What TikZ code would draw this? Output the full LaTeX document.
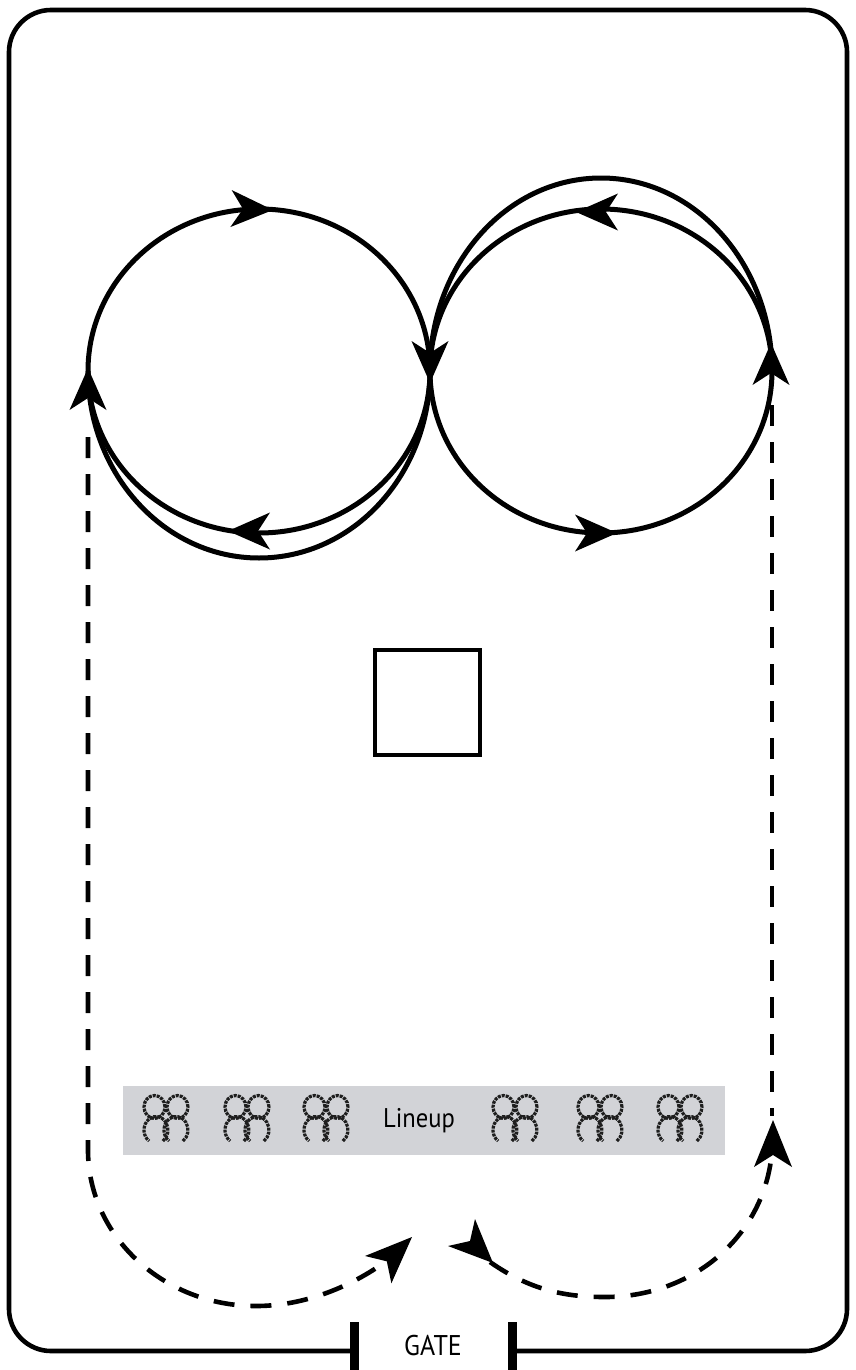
\documentclass[tikz,border=0pt]{standalone}
\usepackage{fontspec}
\newfontfamily\labfont{PT Sans}
\definecolor{lineupgray}{RGB}{210,211,215}
\definecolor{iconink}{RGB}{30,30,30}
\tikzset{
  track/.style={line width=5pt},
  dashtrack/.style={line width=4.6pt, dash pattern=on 21pt off 16pt},
  framestyle/.style={line width=4.6pt},
  gatebar/.style={line width=9pt},
  iconline/.style={draw=iconink, line width=3.2pt, dash pattern=on 3pt off 1pt},
  labeltext/.style={font=\labfont, inner sep=0pt},
  pics/ahead/.style={code={\fill (0,0) -- (-42,18.5) -- (-30,0) -- (-42,-18.5) -- cycle;}},
  pics/aheadb/.style={code={\fill (0,0) -- (-47,19) -- (-35,0) -- (-47,-19) -- cycle;}},
  pics/duo/.style={code={
    \draw[iconline] (-11.5,12) ellipse[x radius=10.5, y radius=11.5];
    \draw[iconline] (11.5,12) ellipse[x radius=10.5, y radius=11.5];
    \draw[iconline] ([shift={(-55:12 and 13.5)}]-10,-11) arc[start angle=-55, end angle=235, x radius=12, y radius=13.5];
    \draw[iconline] ([shift={(-55:12 and 13.5)}]10,-11) arc[start angle=-55, end angle=235, x radius=12, y radius=13.5];
  }},
}
\begin{document}
\begin{tikzpicture}[x=1pt, y=1pt, line join=miter]
\useasboundingbox (0,0) rectangle (856,-1370);

% outer frame with gate opening
\coordinate (gateL) at (354,-1351);
\coordinate (gateR) at (512,-1351);
\draw[framestyle, rounded corners=42pt] (gateL) -- (9,-1351) -- (9,-10) -- (847,-10) -- (847,-1351) -- (gateR);
\draw[gatebar] (354,-1322) -- (354,-1370);
\draw[gatebar] (512,-1322) -- (512,-1370);
\node[labeltext, anchor=base] (gate) at (433,-1355) {\scalebox{0.91}[1]{\fontsize{28.5}{30}\selectfont GATE}};

% loops
\coordinate (Lc) at (259,-371);
\coordinate (Rc) at (601,-371);
\draw[track] (Lc) ellipse[x radius=171, y radius=162];
\draw[track] (Rc) ellipse[x radius=171, y radius=162];
\draw[track] ([shift={(0:171 and 187)}]Lc) arc[start angle=0, end angle=-180, x radius=171, y radius=187];
\draw[track] ([shift={(0:171 and 193)}]Rc) arc[start angle=0, end angle=180, x radius=171, y radius=193];

% arrowheads on loops
\pic[rotate=-2] at (273,-210) {ahead};
\pic[rotate=-90] at (430,-383) {ahead};
\pic[rotate=180] at (228,-531) {ahead};
\pic[rotate=90] at (88,-368) {ahead};
\pic[rotate=0] at (617,-533) {ahead};
\pic[rotate=90] at (771,-343) {ahead};
\pic[rotate=180] at (576,-212) {ahead};

% centre square
\node[draw, line width=4.6pt, minimum width=105pt, minimum height=105pt, inner sep=0pt] (box) at (427.5,-702.5) {};

% lineup
\node[fill=lineupgray, minimum width=602pt, minimum height=69pt, inner sep=0pt] (lineup) at (424,-1120.5) {};
\node[labeltext, anchor=base] (lineuptext) at (419,-1127) {\scalebox{0.91}[1]{\fontsize{27}{29}\selectfont Lineup}};
\foreach \fx in {166,247,326,515,600,680} {
  \pic at (\fx,-1119) {duo};
}

% dashed paths
\coordinate (ldTop) at (88,-437);
\coordinate (ldTurn) at (88,-1150);
\coordinate (ldEnd) at (393,-1256);
\draw[dashtrack] (ldTop) -- (ldTurn) arc[start angle=180, end angle=270, x radius=168, y radius=156]
   .. controls (310,-1306) and (360,-1282) .. (ldEnd);
\pic[rotate=44] at (412,-1237) {aheadb};

\coordinate (rdTop) at (772,-405);
\coordinate (rdBot) at (772,-1116);
\draw[dashtrack] (rdTop) -- (rdBot);
\coordinate (rdStart) at (490,-1262);
\coordinate (rdEnd) at (771,-1160);
\draw[dashtrack] (rdStart) .. controls (530,-1290) and (565,-1297) .. (605,-1297)
   .. controls (690,-1297) and (760,-1240) .. (rdEnd);
\pic[rotate=90] at (773,-1120) {aheadb};
\fill (475,-1219) -- (470,-1241) -- (448,-1246) -- (493,-1263) -- cycle;
\end{tikzpicture}
\end{document}
